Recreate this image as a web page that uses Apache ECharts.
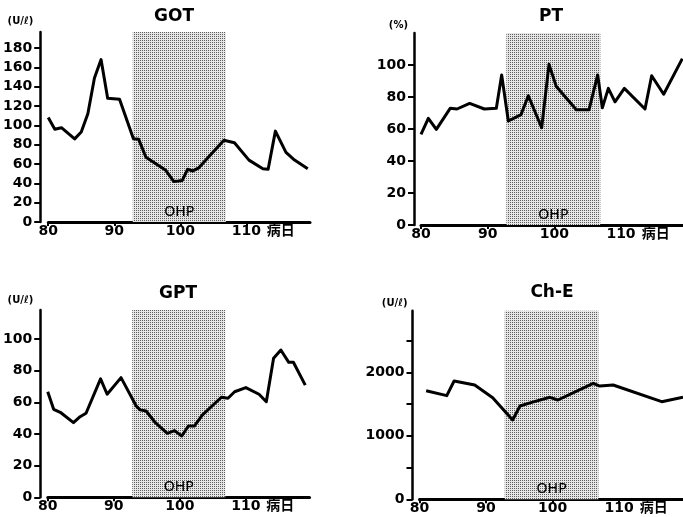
<!DOCTYPE html>
<html>
<head>
<meta charset="utf-8">
<script src="https://cdn.jsdelivr.net/npm/echarts@6/dist/echarts.min.js"></script>
<style>
  html, body { margin: 0; background: #fff; }
  #chart { width: 683px; height: 517px; }
</style>
</head>
<body>
<div id="chart"></div>
<script>
// values (day, value)
const gotDays = [80, 81, 82, 84, 85, 86, 87, 88, 89, 90.8, 92.9, 93.7, 94.8, 97.8, 99, 99.7, 100.3, 101.1, 101.9, 102.8, 106.6, 108.2, 110.4, 112.5, 113.3, 114.4, 116, 117.3, 119.3]
const gotValues = [108, 96, 97.5, 86, 93, 112, 149, 168, 128, 127, 86, 85.5, 67, 53.5, 42, 42.4, 43, 54.5, 52.8, 56, 84.5, 82, 64, 55, 54.5, 94, 72, 64, 55]

const ptDays = [80, 81.1, 82.3, 84.4, 85.4, 87.3, 89.5, 91.3, 92.1, 93.1, 95, 96.1, 98.1, 99.2, 100.3, 103.3, 105.2, 106.5, 107.2, 108.1, 109.1, 110.5, 113.6, 114.6, 116.4, 119.2]
const ptValues = [56.7, 66.7, 59.8, 73, 72.5, 76, 72.5, 73, 93.8, 65, 69, 80.8, 60.8, 100.4, 86.5, 72, 72, 93.8, 73.3, 85.4, 77, 85.4, 72.5, 93.3, 81.7, 104]

const gptDays = [80, 80.9, 81.9, 83.9, 84.9, 85.8, 88, 89, 91.1, 93.4, 94, 94.9, 96.3, 98.1, 99.2, 100.3, 101.3, 102.2, 103.4, 106.3, 107.3, 108.3, 110, 112, 113.1, 114.2, 115.3, 116.5, 117.2, 119]
const gptValues = [66.8, 55.7, 53.8, 47.2, 51, 53.2, 74.9, 65.2, 75.7, 57.8, 55.3, 54.6, 47.2, 40.5, 42.2, 38.8, 45.1, 45.1, 52, 63.3, 62.7, 66.8, 69.4, 65.2, 60.5, 88, 93.2, 85.4, 85.4, 71]

const cheDays = [81, 84.1, 85.2, 88.3, 91, 94, 95.1, 97, 99.6, 100.8, 106.1, 107.1, 109.1, 116.4, 119.6]
const cheValues = [1710, 1632, 1863, 1800, 1600, 1249, 1469, 1530, 1606, 1564, 1827, 1784, 1800, 1537, 1606]

const ohpRange = [92.8, 106.9]
const ohpLabel = 'OHP'

const dayTicks = [80, 90, 100, 110]
const dayUnit = '病日'
const dayUnitAt = 115.2

const gotTicks = [0, 20, 40, 60, 80, 100, 120, 140, 160, 180]
const pctTicks = [0, 20, 40, 60, 80, 100]
const cheTicks = [0, 500, 1000, 1500, 2000, 2500]
const cheLabels = [0, 1000, 2000]

const titles = ['GOT', 'PT', 'GPT', 'Ch-E']
const units = ['(U/ℓ)', '(%)', '(U/ℓ)', '(U/ℓ)']

const FONT = 'DejaVu Sans, Noto Sans CJK JP, sans-serif'

// stipple for the OHP band
function dots() {
  const c = document.createElement('canvas')
  c.width = 2
  c.height = 2
  const ctx = c.getContext('2d')
  ctx.fillStyle = '#e6e6e6'
  ctx.fillRect(0, 0, 2, 2)
  ctx.fillStyle = '#5e5e5e'
  ctx.fillRect(0, 0, 1, 1)
  return c
}
const pattern = { image: dots(), repeat: 'repeat' }

const panels = [
  { days: gotDays, values: gotValues, ticks: gotTicks, labels: gotTicks,
    grid: { left: 48, top: 32, width: 262, height: 190 }, xMax: 119.64, yMax: 196.5,
    yOffset: 8, title: [174, 8], nameGap: 6, namePad: 7 },
  { days: ptDays, values: ptValues, ticks: pctTicks, labels: pctTicks,
    grid: { left: 421, top: 33, width: 262, height: 192 }, xMax: 119.3, yMax: 120,
    yOffset: 7, title: [551, 8], nameGap: 3, namePad: 6 },
  { days: gptDays, values: gptValues, ticks: pctTicks, labels: pctTicks,
    grid: { left: 47.5, top: 310, width: 262, height: 187.3 }, xMax: 119.64, yMax: 118.5,
    yOffset: 7.5, title: [178, 285], nameGap: 5, namePad: 7 },
  { days: cheDays, values: cheValues, ticks: cheTicks, labels: cheLabels,
    grid: { left: 419.5, top: 310.7, width: 263.5, height: 188.6 }, xMax: 119.6, yMax: 2970,
    yOffset: 7, title: [552, 284], nameGap: 2.5, namePad: 5 }
]

const option = {
  animation: false,
  backgroundColor: '#fff',
  textStyle: { fontFamily: FONT },
  title: panels.map((p, i) => ({
    text: titles[i],
    left: p.title[0],
    top: p.title[1],
    textAlign: 'center',
    padding: 0,
    textStyle: { fontFamily: FONT, fontSize: 17, fontWeight: 'bold', color: '#000' }
  })),
  grid: panels.map(p => Object.assign({ containLabel: false }, p.grid)),
  xAxis: panels.map((p, i) => ({
    type: 'value',
    gridIndex: i,
    min: 80,
    max: p.xMax,
    splitLine: { show: false },
    axisLine: { lineStyle: { color: '#000', width: 3 } },
    axisTick: { customValues: dayTicks, length: 4, lineStyle: { color: '#000', width: 2 } },
    axisLabel: {
      customValues: dayTicks.concat([dayUnitAt]),
      formatter: v => (v === dayUnitAt ? dayUnit : String(v)),
      color: '#000',
      fontSize: 14,
      fontWeight: 'bold',
      margin: 2,
      fontFamily: FONT
    }
  })),
  yAxis: panels.map((p, i) => ({
    type: 'value',
    gridIndex: i,
    min: 0,
    max: p.yMax,
    offset: p.yOffset,
    name: units[i],
    nameLocation: 'end',
    nameGap: p.nameGap,
    nameTextStyle: {
      align: 'right',
      padding: [0, p.namePad, 0, 0],
      fontSize: 10,
      fontWeight: 'bold',
      color: '#000',
      fontFamily: FONT
    },
    splitLine: { show: false },
    axisLine: { show: true, lineStyle: { color: '#000', width: 2.5 } },
    axisTick: { customValues: p.ticks, length: 6, lineStyle: { color: '#000', width: 2 } },
    axisLabel: {
      customValues: p.labels,
      formatter: v => String(v),
      color: '#000',
      fontSize: 14,
      fontWeight: 'bold',
      margin: 8,
      fontFamily: FONT
    }
  })),
  series: panels.map((p, i) => ({
    type: 'line',
    xAxisIndex: i,
    yAxisIndex: i,
    data: p.days.map((d, k) => [d, p.values[k]]),
    showSymbol: false,
    clip: true,
    lineStyle: { color: '#000', width: 3, join: 'round' },
    markArea: {
      silent: true,
      itemStyle: { color: pattern },
      label: {
        show: true,
        position: 'insideBottom',
        distance: 3,
        color: '#000',
        fontSize: 14,
        fontFamily: FONT
      },
      data: [[{ xAxis: ohpRange[0], name: ohpLabel }, { xAxis: ohpRange[1] }]]
    },
    z: 3
  }))
}

const chart = echarts.init(document.getElementById('chart'), null, { renderer: 'canvas' })
chart.setOption(option)
</script>
</body>
</html>
